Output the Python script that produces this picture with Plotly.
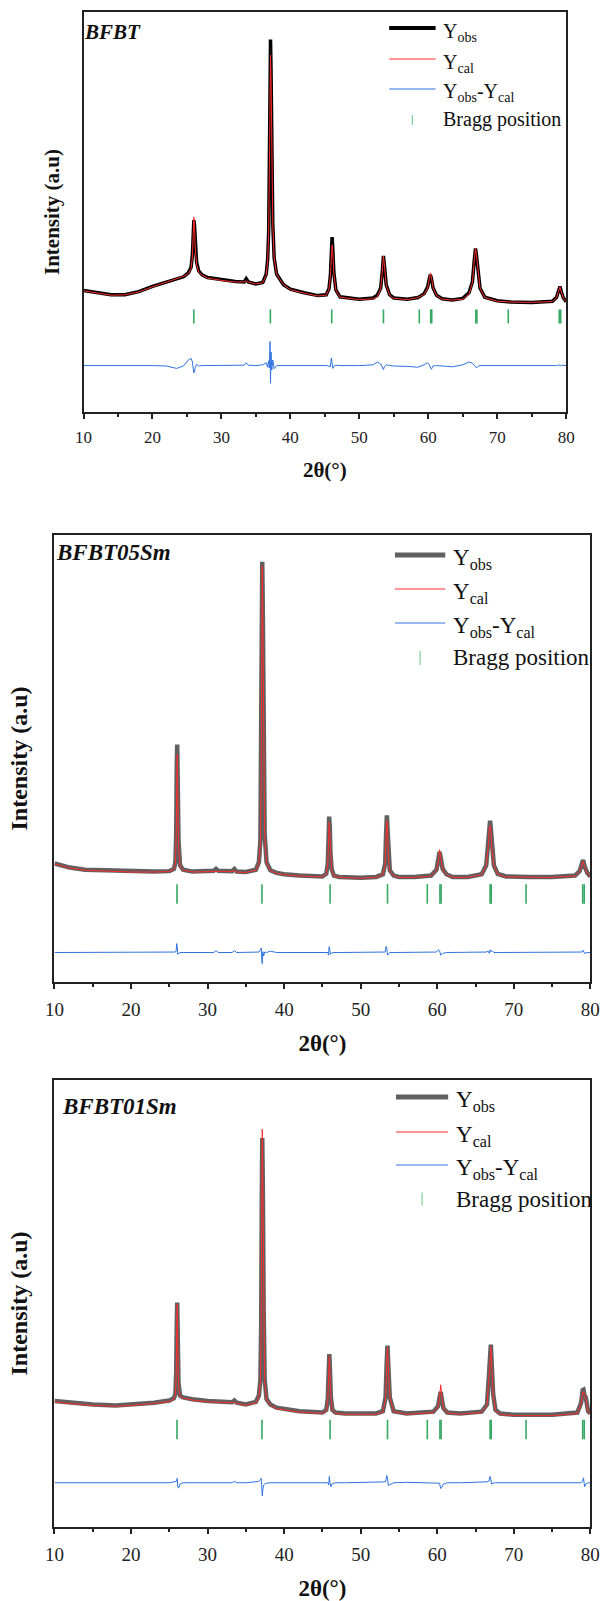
import plotly.graph_objects as go

FONT = "Liberation Serif, Times New Roman, Times, serif"
W, H = 611, 1601

# ---------------- data (intensity in arbitrary units, 0-100 per panel) ----------------
X1 = [
    10, 12, 14, 16, 18, 20, 22, 23.5, 24.5, 25.2,
    25.6, 25.8, 25.9, 26.0, 26.1, 26.2, 26.4, 26.7, 27.2, 28,
    30, 32, 33.3, 33.6, 33.9, 35, 36, 36.5, 36.7, 36.85,
    36.95, 37.05, 37.12, 37.2, 37.3, 37.45, 37.65, 38, 39, 40,
    42, 44, 45.2, 45.6, 45.8, 45.95, 46.05, 46.15, 46.3, 46.6,
    47.2, 50, 52, 52.6, 53.1, 53.35, 53.5, 53.65, 53.9, 54.4,
    55, 57, 58.5, 59.4, 59.9, 60.15, 60.3, 60.45, 60.7, 61.2,
    62, 63.5, 65, 65.9, 66.4, 66.65, 66.85, 67.0, 67.2, 67.5,
    68.2, 70, 72, 75, 78, 78.6, 78.9, 79.1, 79.3, 79.6,
    80]
YOBS1 = [
    30.4, 29.8, 29.3, 29.3, 30.1, 31.4, 32.4, 33.1, 33.8, 34.8,
    36.2, 39.5, 43.5, 48.0, 46.5, 41.5, 37.5, 35.3, 34.3, 33.6,
    33.0, 32.6, 32.5, 33.3, 32.5, 32.0, 32.4, 34.5, 38.0, 45.0,
    62.0, 86.0, 93.1, 85.0, 64.0, 47.0, 38.5, 34.5, 31.8, 30.7,
    29.8, 29.1, 29.3, 30.8, 34.0, 40.5, 43.7, 41.0, 35.0, 30.5,
    28.8, 28.2, 28.5, 29.2, 31.0, 35.5, 39.0, 36.5, 31.8, 29.3,
    28.5, 28.2, 28.6, 29.6, 31.2, 33.3, 34.3, 33.4, 31.0, 29.2,
    28.3, 28.0, 28.4, 29.8, 32.5, 37.5, 40.9, 39.0, 35.0, 31.0,
    28.7, 27.8, 27.5, 27.4, 27.7, 28.7, 30.3, 31.4, 30.0, 28.5,
    27.6]
YCAL1 = [
    30.3, 29.7, 29.2, 29.3, 30.0, 31.3, 32.4, 33.2, 33.9, 34.6,
    35.8, 39.0, 44.0, 48.7, 46.8, 41.0, 37.0, 35.0, 34.2, 33.5,
    32.9, 32.5, 32.5, 32.8, 32.5, 32.0, 32.3, 34.2, 37.8, 44.5,
    60.0, 83.0, 89.2, 83.5, 63.0, 47.0, 38.5, 34.4, 31.8, 30.6,
    29.7, 29.0, 29.2, 30.7, 33.8, 39.0, 41.8, 40.0, 34.8, 30.4,
    28.7, 28.1, 28.3, 28.8, 30.8, 35.5, 39.0, 36.5, 31.7, 29.2,
    28.4, 28.1, 28.6, 29.4, 30.9, 33.3, 34.7, 33.8, 31.1, 29.1,
    28.2, 28.0, 28.2, 29.4, 32.3, 37.5, 40.9, 39.1, 35.0, 31.0,
    28.6, 27.7, 27.5, 27.4, 27.6, 28.6, 30.2, 31.3, 30.0, 28.4,
    27.6]
YDIFF1 = [
    11.6, 11.6, 11.7, 11.6, 11.6, 11.6, 11.5, 10.9, 11.5, 13.0,
    13.4, 12.5, 11.0, 9.8, 10.0, 11.2, 11.9, 11.5, 11.6, 11.6,
    11.7, 11.6, 11.7, 12.3, 11.7, 11.6, 11.8, 12.3, 11.2, 12.8,
    11.0, 17.6, 7.2, 15.0, 10.5, 13.0, 10.8, 11.6, 11.6, 11.7,
    11.6, 11.6, 11.6, 11.5, 11.3, 13.5, 12.5, 10.9, 11.4, 11.7,
    11.6, 11.6, 11.8, 12.5, 12.0, 11.2, 10.6, 11.4, 11.8, 11.6,
    11.5, 11.4, 11.2, 11.8, 12.3, 11.8, 11.0, 10.7, 11.5, 11.6,
    11.5, 11.3, 11.8, 12.5, 12.2, 11.6, 11.2, 11.0, 11.4, 11.6,
    11.6, 11.6, 11.6, 11.6, 11.6, 11.6, 11.8, 11.5, 11.7, 11.6,
    11.6]

X2 = [
    10, 12, 14, 17, 20, 23, 25, 25.6, 25.8, 25.9,
    25.97, 26.03, 26.1, 26.2, 26.4, 26.8, 28, 30, 30.8, 31.1,
    31.4, 33.2, 33.5, 33.8, 35, 36.3, 36.7, 36.9, 37.0, 37.08,
    37.14, 37.22, 37.32, 37.45, 37.7, 38.2, 39, 40, 42, 45,
    45.5, 45.7, 45.8, 45.88, 45.96, 46.05, 46.2, 46.5, 47.2, 50,
    52, 52.9, 53.2, 53.32, 53.42, 53.5, 53.6, 53.8, 54.3, 55,
    57, 59.2, 59.9, 60.15, 60.3, 60.45, 60.7, 61.2, 62, 64,
    65.8, 66.4, 66.65, 66.8, 66.9, 67.0, 67.15, 67.4, 67.9, 69,
    72, 75, 78, 78.6, 78.9, 79.05, 79.25, 79.6, 80]
YOBS2 = [
    26.5, 25.6, 25.1, 24.9, 24.7, 24.7, 24.8, 25.3, 26.8, 33.2,
    48.1, 53.1, 44.3, 31.7, 26.1, 25.1, 24.7, 24.7, 24.9, 25.3,
    24.9, 24.8, 25.3, 24.7, 24.6, 25.1, 26.8, 31.7, 48.1, 77.9,
    94.0, 81.6, 51.8, 33.2, 26.8, 25.0, 24.4, 24.1, 23.8, 23.6,
    24.2, 26.5, 31.7, 37.0, 34.6, 28.7, 25.3, 23.8, 23.5, 23.3,
    23.5, 24.1, 26.5, 33.2, 37.3, 34.3, 28.7, 25.0, 23.8, 23.5,
    23.5, 23.8, 25.1, 27.2, 29.1, 27.8, 25.3, 24.1, 23.5, 23.5,
    24.1, 26.1, 30.2, 35.0, 36.1, 34.3, 29.8, 26.1, 24.2, 23.6,
    23.5, 23.5, 23.8, 24.8, 26.5, 27.3, 25.9, 24.4, 23.6]
YCAL2 = [
    26.4, 25.5, 25.0, 24.8, 24.6, 24.6, 24.7, 25.2, 26.6, 32.8,
    47.0, 51.0, 43.5, 31.3, 26.0, 25.0, 24.6, 24.6, 24.7, 24.8,
    24.7, 24.7, 24.8, 24.6, 24.5, 25.0, 26.6, 31.3, 47.5, 76.5,
    93.1, 80.8, 51.5, 33.0, 26.6, 24.9, 24.3, 24.0, 23.7, 23.5,
    24.1, 26.4, 31.5, 35.8, 34.0, 28.5, 25.2, 23.7, 23.4, 23.2,
    23.4, 24.0, 26.3, 32.8, 36.1, 34.0, 28.6, 24.9, 23.7, 23.4,
    23.4, 23.7, 24.9, 27.1, 29.6, 28.0, 25.2, 24.0, 23.4, 23.4,
    24.0, 26.0, 30.0, 34.5, 35.0, 34.0, 29.6, 26.0, 24.1, 23.5,
    23.4, 23.4, 23.7, 24.7, 26.3, 27.0, 25.8, 24.3, 23.5]
YDIFF2 = [
    6.6, 6.6, 6.6, 6.6, 6.6, 6.6, 6.6, 6.6, 6.7, 7.0,
    8.6, 7.8, 6.2, 6.4, 6.6, 6.6, 6.6, 6.6, 6.6, 7.0,
    6.6, 6.6, 7.0, 6.6, 6.6, 6.6, 6.7, 7.2, 7.6, 5.0,
    4.1, 6.8, 5.8, 6.7, 6.6, 6.9, 6.6, 6.6, 6.6, 6.6,
    6.6, 6.6, 6.0, 7.9, 7.2, 6.2, 6.5, 6.6, 6.6, 6.6,
    6.6, 6.6, 6.7, 8.0, 7.5, 6.0, 6.3, 6.6, 6.6, 6.6,
    6.6, 6.6, 6.7, 7.2, 7.0, 6.0, 6.4, 6.6, 6.6, 6.6,
    6.6, 6.7, 6.9, 6.4, 7.2, 6.8, 7.0, 6.6, 6.6, 6.6,
    6.6, 6.6, 6.6, 6.6, 6.7, 7.1, 6.4, 6.6, 6.6]

X3 = [
    10, 12, 15, 18, 20, 23, 25, 25.6, 25.8, 25.9,
    25.97, 26.03, 26.1, 26.2, 26.4, 26.8, 28, 30, 33.2, 33.5,
    33.8, 35, 36.3, 36.7, 36.9, 37.0, 37.08, 37.14, 37.22, 37.32,
    37.45, 37.7, 38.2, 39, 40, 42, 45, 45.5, 45.7, 45.82,
    45.9, 45.98, 46.1, 46.3, 46.7, 48, 52, 52.9, 53.25, 53.4,
    53.5, 53.6, 53.8, 54.3, 56, 59.5, 60.1, 60.3, 60.45, 60.6,
    60.8, 61.3, 63, 65.8, 66.5, 66.75, 66.9, 67.0, 67.1, 67.3,
    67.6, 68.2, 70, 75, 78.3, 78.8, 79.0, 79.1, 79.25, 79.4,
    79.7, 80]
YOBS3 = [
    28.2, 27.8, 27.4, 27.2, 27.4, 27.8, 28.3, 28.8, 29.8, 34.6,
    45.0, 50.2, 42.6, 32.2, 29.4, 29.0, 28.6, 28.2, 27.9, 28.3,
    27.8, 27.4, 28.0, 29.4, 33.0, 45.0, 73.0, 87.0, 75.4, 49.0,
    33.0, 28.6, 27.4, 26.7, 26.4, 25.9, 25.6, 26.2, 28.6, 34.6,
    38.7, 35.4, 29.0, 26.2, 25.6, 25.4, 25.4, 25.9, 29.0, 37.0,
    40.6, 36.2, 29.0, 25.9, 25.4, 25.8, 27.0, 29.0, 30.2, 28.6,
    26.6, 25.6, 25.4, 25.8, 27.4, 33.8, 40.2, 40.8, 37.0, 29.8,
    26.2, 25.4, 25.1, 25.1, 25.6, 27.8, 30.6, 30.7, 29.4, 29.0,
    25.9, 25.4]
YCAL3 = [
    28.0, 27.6, 27.2, 27.0, 27.2, 27.6, 28.1, 28.6, 29.6, 34.2,
    44.6, 49.8, 42.2, 32.0, 29.2, 28.8, 28.4, 28.0, 27.8, 27.9,
    27.7, 27.2, 27.8, 29.1, 32.6, 45.5, 75.0, 89.0, 76.5, 49.5,
    32.8, 28.4, 27.2, 26.5, 26.2, 25.7, 25.4, 26.0, 28.3, 34.2,
    38.2, 35.2, 29.2, 26.1, 25.4, 25.2, 25.2, 25.7, 28.6, 36.5,
    40.2, 36.3, 29.2, 25.8, 25.2, 25.6, 26.9, 29.0, 31.8, 29.3,
    26.7, 25.5, 25.2, 25.6, 27.2, 33.6, 39.8, 40.3, 37.0, 29.7,
    26.0, 25.2, 24.9, 24.9, 25.4, 27.6, 30.2, 30.2, 29.6, 28.8,
    25.7, 25.2]
YDIFF3 = [
    9.9, 9.9, 9.9, 9.9, 9.9, 9.9, 9.9, 10.1, 10.1, 10.2,
    10.6, 10.9, 9.2, 8.7, 9.6, 9.9, 9.9, 9.9, 9.9, 10.2,
    9.9, 9.9, 10.1, 10.2, 10.6, 10.9, 9.0, 7.0, 8.5, 9.4,
    9.6, 9.8, 9.9, 9.9, 9.9, 9.9, 9.9, 9.9, 9.9, 9.4,
    11.3, 10.0, 9.0, 9.7, 9.9, 9.9, 10.0, 10.0, 10.1, 11.5,
    11.0, 9.3, 9.5, 9.9, 10.0, 9.9, 9.9, 9.8, 8.6, 8.9,
    9.6, 9.9, 9.9, 10.0, 10.1, 10.3, 11.3, 10.6, 9.6, 9.8,
    9.9, 9.9, 9.9, 9.9, 9.9, 9.9, 10.3, 11.0, 9.0, 9.6,
    9.9, 9.9]

BRAGG_POS = [26.0, 37.1, 46.0, 53.5, 58.7, 60.35, 60.5, 66.9, 67.05, 71.6, 79.0, 79.2]
BRAGG_LEVEL = [23.9, 19.7, 21.8]
SAMPLES = ["BFBT", "BFBT05Sm", "BFBT01Sm"]
XTICKS = [10, 20, 30, 40, 50, 60, 70, 80]
LEGEND_LABELS = ["Y<sub>obs</sub>", "Y<sub>cal</sub>", "Y<sub>obs</sub>-Y<sub>cal</sub>", "Bragg position"]

for a, b in [(X1, YOBS1), (X1, YCAL1), (X1, YDIFF1), (X2, YOBS2), (X2, YCAL2), (X2, YDIFF2),
             (X3, YOBS3), (X3, YCAL3), (X3, YDIFF3)]:
    assert len(a) == len(b), (len(a), len(b))

# ---------------- styling / geometry ----------------
OBS_COLOR = ["#000000", "#606060", "#606060"]
OBS_WIDTH = [3.5, 4.5, 4.5]
CAL_COLOR = "#ff2b2b"
DIFF_COLOR = "#2f72e0"
BRAGG_COLOR = "#35a862"
AX_COLOR = "#222222"

# plot boxes in pixels: left, right, top, bottom
BOX = [(76, 575, 12, 412), (46, 600, 535, 982), (46, 600, 1080, 1527)]
TICK_FS = [17, 19, 19]
XTITLE_FS = [21, 23, 23]
YTITLE_FS = [21, 24, 24]
YTITLE_STANDOFF = [16, 18, 18]
LABEL_FS = [21, 23, 23]
LABEL_POS = [(74, 32), (46, 553), (52, 1106)]
LEG_FS = [20, 23, 23]
LEG_LINE = [(392, 440), (398, 450), (399, 453)]
LEG_TEXT_X = [446, 456, 459]
LEG_ROWS = [(28, 59, 89, 120), (555, 589, 623, 658), (1097, 1132, 1165, 1199)]
LEG_TICK_X = [416, 424, 426]
LEG_TICK_H = [10, 14, 13]
BRAGG_SIZE = [10, 14, 14]


def px(x):
    return x / W


def py(y):
    return 1 - y / H


fig = go.Figure()
data = [(X1, YOBS1, YCAL1, YDIFF1), (X2, YOBS2, YCAL2, YDIFF2), (X3, YOBS3, YCAL3, YDIFF3)]
shapes, annots = [], []

for i, (xs, yo, yc, yd) in enumerate(data):
    n = "" if i == 0 else str(i + 1)
    xa, ya = "x" + n, "y" + n
    fig.add_trace(go.Scatter(x=xs, y=yo, mode="lines", xaxis=xa, yaxis=ya, showlegend=False,
                             line=dict(color=OBS_COLOR[i], width=OBS_WIDTH[i])))
    fig.add_trace(go.Scatter(x=xs, y=yc, mode="lines", xaxis=xa, yaxis=ya, showlegend=False,
                             line=dict(color=CAL_COLOR, width=1.0)))
    fig.add_trace(go.Scatter(x=xs, y=yd, mode="lines", xaxis=xa, yaxis=ya, showlegend=False,
                             line=dict(color=DIFF_COLOR, width=1.0)))
    fig.add_trace(go.Scatter(x=BRAGG_POS, y=[BRAGG_LEVEL[i]] * len(BRAGG_POS), mode="markers",
                             xaxis=xa, yaxis=ya, showlegend=False,
                             marker=dict(symbol="line-ns", size=BRAGG_SIZE[i],
                                         line=dict(color=BRAGG_COLOR, width=1.6))))

    l, r, t, b = BOX[i]
    fig.layout["xaxis" + n] = dict(
        domain=[px(l), px(r)], anchor=ya, range=[10, 80], tickvals=XTICKS,
        ticks="outside", ticklen=5, tickwidth=1.5, tickcolor=AX_COLOR,
        minor=dict(dtick=5, tick0=0, ticks="outside", ticklen=3, tickwidth=1.5, tickcolor=AX_COLOR),
        showline=True, linecolor=AX_COLOR, linewidth=1.5, mirror=True,
        showgrid=False, zeroline=False, ticklabelstandoff=4,
        tickfont=dict(family=FONT, size=TICK_FS[i], color="#222222"),
        title=dict(text="2θ(°)", standoff=16,
                   font=dict(family=FONT, size=XTITLE_FS[i], color="#111111", weight="bold")))
    fig.layout["yaxis" + n] = dict(
        domain=[py(b), py(t)], anchor=xa, range=[0, 100],
        showticklabels=False, ticks="", showgrid=False, zeroline=False,
        showline=True, linecolor=AX_COLOR, linewidth=1.5, mirror=True,
        title=dict(text="Intensity (a.u)", standoff=YTITLE_STANDOFF[i],
                   font=dict(family=FONT, size=YTITLE_FS[i], color="#111111", weight="bold")))

    # sample label
    lx, ly = LABEL_POS[i]
    annots.append(dict(xref="paper", yref="paper", x=px(lx), y=py(ly), xanchor="left", yanchor="middle",
                       text="<b><i>%s</i></b>" % SAMPLES[i], showarrow=False,
                       font=dict(family=FONT, size=LABEL_FS[i], color="#111111")))

    # legend (drawn manually)
    x0, x1 = LEG_LINE[i]
    rows = LEG_ROWS[i]
    legend_styles = [(OBS_COLOR[i], OBS_WIDTH[i] + 0.5), (CAL_COLOR, 1.0), (DIFF_COLOR, 1.0)]
    for k, (c, w) in enumerate(legend_styles):
        shapes.append(dict(type="line", xref="paper", yref="paper", x0=px(x0), x1=px(x1),
                           y0=py(rows[k]), y1=py(rows[k]), line=dict(color=c, width=w)))
    th = LEG_TICK_H[i]
    shapes.append(dict(type="line", xref="paper", yref="paper", x0=px(LEG_TICK_X[i]), x1=px(LEG_TICK_X[i]),
                       y0=py(rows[3] - th / 2), y1=py(rows[3] + th / 2),
                       line=dict(color="#7fcf9a", width=1.2)))
    for k, txt in enumerate(LEGEND_LABELS):
        off = 4 if k < 3 else 0
        annots.append(dict(xref="paper", yref="paper", x=px(LEG_TEXT_X[i]), y=py(rows[k] + off),
                           xanchor="left", yanchor="middle", text=txt, showarrow=False,
                           font=dict(family=FONT, size=LEG_FS[i], color="#111111")))

fig.update_layout(
    width=W, height=H, autosize=False,
    margin=dict(l=0, r=0, t=0, b=0),
    paper_bgcolor="white", plot_bgcolor="white",
    shapes=shapes, annotations=annots,
    font=dict(family=FONT),
)

fig.write_html("out.html")
